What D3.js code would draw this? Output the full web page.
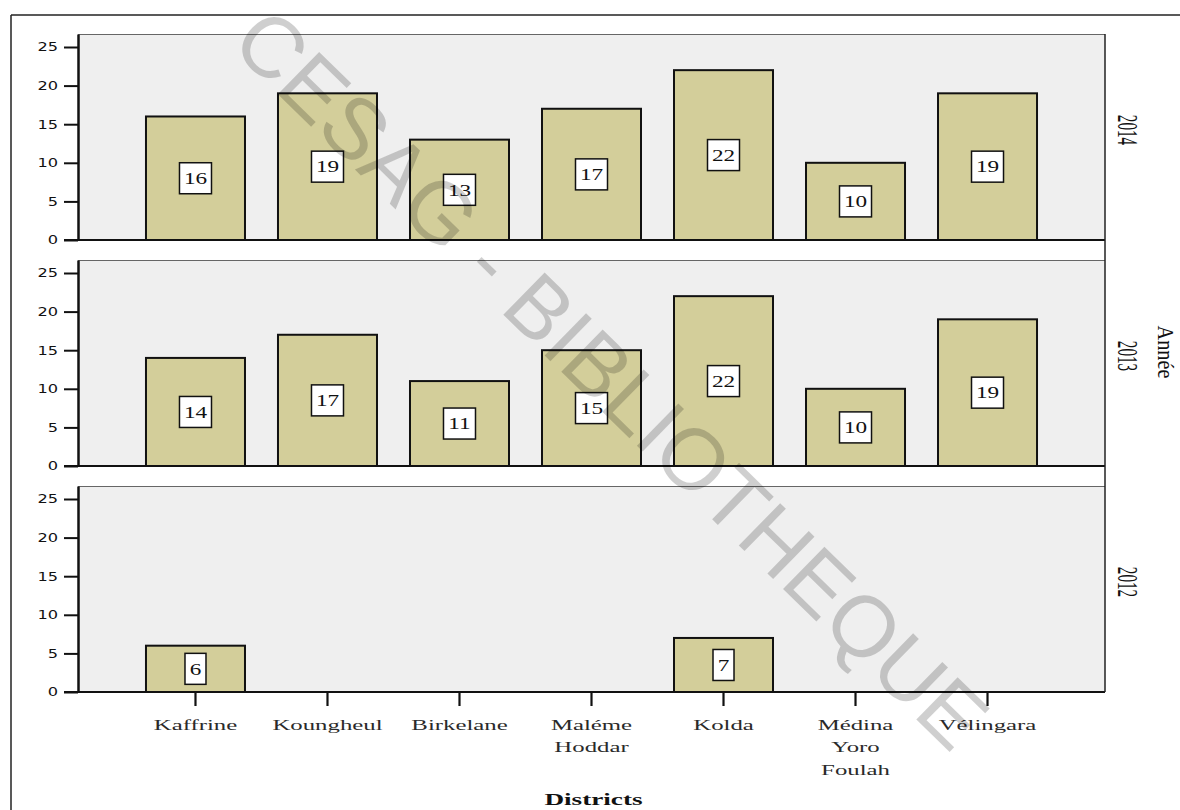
<!DOCTYPE html>
<html>
<head>
<meta charset="utf-8">
<script src="https://cdn.jsdelivr.net/npm/d3@7"></script>
<style>
  html, body { margin: 0; padding: 0; background: #fff; }
  svg { display: block; }
</style>
</head>
<body>
<svg id="chart" width="1180" height="810"></svg>
<script>
// Districts shown along the x axis
const categories = ["Kaffrine", "Koungheul", "Birkelane", "Maléme Hoddar", "Kolda", "Médina Yoro Foulah", "Vélingara"];
// One panel per year, top to bottom
const years = ["2014", "2013", "2012"];
const values2014 = [16, 19, 13, 17, 22, 10, 19];
const values2013 = [14, 17, 11, 15, 22, 10, 19];
const values2012 = [6, null, null, null, 7, null, null];
const yTicks = [0, 5, 10, 15, 20, 25];
const xTitle = "Districts";
const facetTitle = "Année";
const watermarkText = "CESAG - BIBLIOTHEQUE";

const seriesByYear = { "2014": values2014, "2013": values2013, "2012": values2012 };

const svg = d3.select("#chart");

const plotLeft = 78, plotRight = 1105;
const panelTops = [34, 260, 486];
const panelH = 206;
const yMax = 25 * panelH / 193;

const x = d3.scaleBand()
  .domain(categories)
  .range([plotLeft, plotRight])
  .paddingInner(0.25)
  .paddingOuter(0.515);

const serif = "'Liberation Serif', 'Times New Roman', serif";

// outer frame (top and left edges)
svg.append("line").attr("x1", 11).attr("x2", 1180).attr("y1", 15).attr("y2", 15)
  .attr("stroke", "#222").attr("stroke-width", 1.5);
svg.append("line").attr("x1", 11).attr("x2", 11).attr("y1", 15).attr("y2", 810)
  .attr("stroke", "#222").attr("stroke-width", 1.5);

years.forEach((yr, i) => {
  const top = panelTops[i];
  const bottom = top + panelH;
  const y = d3.scaleLinear().domain([0, yMax]).range([bottom, top]);
  const g = svg.append("g");

  // panel background
  g.append("rect").attr("x", plotLeft).attr("y", top)
    .attr("width", plotRight - plotLeft).attr("height", panelH)
    .attr("fill", "#efefef");
  g.append("line").attr("x1", plotLeft).attr("x2", plotRight)
    .attr("y1", top + 0.5).attr("y2", top + 0.5)
    .attr("stroke", "#666").attr("stroke-width", 1);

  const vals = seriesByYear[yr];
  const data = categories.map((c, j) => ({ cat: c, v: vals[j] })).filter(d => d.v != null);

  // bars
  g.selectAll("rect.bar").data(data).enter().append("rect")
    .attr("class", "bar")
    .attr("x", d => x(d.cat))
    .attr("y", d => y(d.v))
    .attr("width", x.bandwidth())
    .attr("height", d => y(0) - y(d.v))
    .attr("fill", "#d3ce9a")
    .attr("stroke", "#111")
    .attr("stroke-width", 2);

  // value boxes
  const lab = g.selectAll("g.lab").data(data).enter().append("g")
    .attr("class", "lab")
    .attr("transform", d => `translate(${x(d.cat) + x.bandwidth() / 2},${y(d.v / 2)})`);
  lab.append("rect")
    .attr("x", d => String(d.v).length > 1 ? -16 : -10.5)
    .attr("y", -15.5)
    .attr("width", d => String(d.v).length > 1 ? 32 : 21)
    .attr("height", 31)
    .attr("fill", "#fff")
    .attr("stroke", "#111")
    .attr("stroke-width", 1.5);
  lab.append("text")
    .attr("transform", "scale(1.45,1)")
    .attr("text-anchor", "middle")
    .attr("dy", "0.36em")
    .attr("font-family", serif)
    .attr("font-size", 16)
    .attr("fill", "#111")
    .text(d => d.v);

  // y axis
  const yAxis = d3.axisLeft(y).tickValues(yTicks).tickSize(14).tickSizeOuter(0).tickPadding(0);
  const ga = g.append("g").attr("transform", `translate(${plotLeft},0)`).call(yAxis);
  ga.select(".domain").attr("stroke", "#111").attr("stroke-width", 2.5);
  ga.selectAll(".tick line").attr("stroke", "#111").attr("stroke-width", 2);
  ga.selectAll(".tick text")
    .attr("x", -20 / 1.35)
    .attr("transform", "scale(1.35,1)")
    .attr("font-family", "'DejaVu Sans', sans-serif")
    .attr("font-size", 12)
    .attr("fill", "#111");

  // baseline
  g.append("line").attr("x1", plotLeft - 14).attr("x2", plotRight)
    .attr("y1", bottom).attr("y2", bottom)
    .attr("stroke", "#111").attr("stroke-width", 2.2);

  // facet label on the right
  svg.append("text")
    .attr("transform", `translate(${1118},${(top + bottom) / 2 - 7}) rotate(90) scale(0.8,1.6)`)
    .attr("text-anchor", "middle")
    .attr("font-family", serif)
    .attr("font-size", 19)
    .attr("fill", "#111")
    .text(yr);

  // x axis under the last panel
  if (i === years.length - 1) {
    const xAxis = d3.axisBottom(x).tickSize(14).tickSizeOuter(0).tickFormat("");
    const gx = svg.append("g").attr("transform", `translate(0,${bottom})`).call(xAxis);
    gx.select(".domain").remove();
    gx.selectAll(".tick line").attr("stroke", "#111").attr("stroke-width", 2.2);

    const lbl = svg.selectAll("text.cat").data(categories).enter().append("text")
      .attr("class", "cat")
      .attr("transform", d => `translate(${x(d) + x.bandwidth() / 2},${730}) scale(1.6,1)`)
      .attr("text-anchor", "middle")
      .attr("font-family", serif)
      .attr("font-size", 15.5)
      .attr("fill", "#2a2a2a");
    lbl.each(function(d) {
      const words = d.split(" ");
      d3.select(this).selectAll("tspan").data(words).enter().append("tspan")
        .attr("x", 0)
        .attr("y", (w, k) => k * 22.5)
        .text(w => w);
    });
  }
});

// right border running along all panels
svg.append("line").attr("x1", plotRight).attr("x2", plotRight)
  .attr("y1", panelTops[0]).attr("y2", panelTops[2] + panelH)
  .attr("stroke", "#222").attr("stroke-width", 1.5);

// axis titles
svg.append("text")
  .attr("transform", `translate(${(plotLeft + plotRight) / 2 + 2},${805}) scale(1.6,1)`)
  .attr("text-anchor", "middle")
  .attr("font-family", serif)
  .attr("font-weight", "bold")
  .attr("font-size", 17)
  .attr("fill", "#111")
  .text(xTitle);

svg.append("text")
  .attr("transform", `translate(${1158},${352}) rotate(90) scale(1.27,1.4)`)
  .attr("text-anchor", "middle")
  .attr("font-family", serif)
  .attr("font-size", 16)
  .attr("fill", "#111")
  .text(facetTitle);

// diagonal library watermark over the chart
svg.append("text")
  .attr("transform", `translate(${612},${378}) rotate(44.4)`)
  .attr("text-anchor", "middle")
  .attr("dy", "0.36em")
  .attr("font-family", "'Liberation Sans', Arial, sans-serif")
  .attr("font-size", 86)
  .attr("fill", "#000")
  .attr("fill-opacity", 0.19)
  .text(watermarkText);
</script>
</body>
</html>
